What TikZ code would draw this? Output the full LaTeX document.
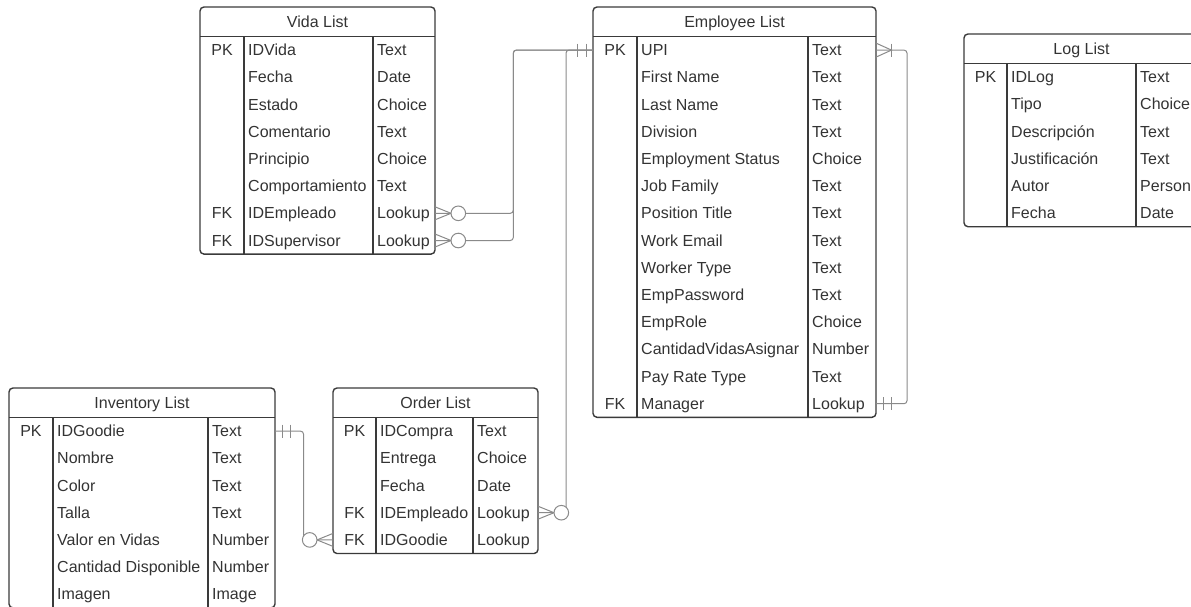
\documentclass[tikz,border=0pt]{standalone}
\usepackage{fontspec}
\setmainfont{Liberation Sans}
\usetikzlibrary{calc}
\definecolor{tblc}{HTML}{3A3A3A}
\definecolor{connc}{HTML}{8A8A8A}
\definecolor{txtc}{HTML}{333333}
\tikzset{
  tbl/.style={draw=tblc, line width=1.4pt, rounded corners=4pt},
  colsep/.style={draw=tblc, line width=1.4pt},
  conn/.style={draw=connc, line width=1pt, rounded corners=3pt},
  txt/.style={inner sep=0pt, text=txtc, font=\fontsize{16}{19}\selectfont},
}
\newcommand\ertable[9]{% #1 name, #2 x1, #3 y1, #4 x2, #5 c1, #6 c2, #7 title, #8 nrows, #9 rows
  \pgfmathsetmacro\yh{#3+29.5}
  \pgfmathsetmacro\yb{\yh+#8*27.2}
  \draw[tbl] (#2,#3) rectangle (#4,\yb);
  \draw[colsep] (#2,\yh) -- (#4,\yh);
  \draw[colsep] (#5,\yh) -- (#5,\yb);
  \draw[colsep] (#6,\yh) -- (#6,\yb);
  \node[txt, anchor=base] (#1-t) at ({(#2+#4)/2},{#3+20.5}) {#7};
  \foreach \k/\n/\t [count=\i] in {#9} {
    \pgfmathsetmacro\yc{\yh+(\i-0.5)*27.2}
    \node[txt, anchor=base] (#1-k\i) at ({(#2+#5)/2},{\yc+5.6}) {\k};
    \node[txt, anchor=base west] (#1-n\i) at ({#5+4},{\yc+5.6}) {\n};
    \node[txt, anchor=base west] (#1-y\i) at ({#6+4},{\yc+5.6}) {\t};
    \coordinate (#1-L\i) at (#2,\yc);
    \coordinate (#1-R\i) at (#4,\yc);
  }
}
\newcommand\zmany[2]{% zero or many at coordinate #1, direction #2
  \draw[conn, rounded corners=0pt] ($(#1)+(0,-6.5)$) -- ($(#1)+(#2*16,0)$) -- ($(#1)+(0,6.5)$);
  \draw[conn, fill=white] ($(#1)+(#2*23.3,0)$) circle[radius=7.3pt];
}
\newcommand\obar[2]{% bar at coordinate #1, offset #2
  \draw[conn] ($(#1)+(#2,-6.5)$) -- ($(#1)+(#2,6.5)$);
}
\begin{document}
\begin{tikzpicture}[x=1pt,y=-1pt]
\useasboundingbox (0,0) rectangle (1191,606);
\clip (0,0) rectangle (1191,606);

\ertable{vida}{200}{7}{435}{244}{373}{Vida List}{8}{PK/IDVida/Text, {}/Fecha/Date, {}/Estado/Choice, {}/Comentario/Text, {}/Principio/Choice, {}/Comportamiento/Text, FK/IDEmpleado/Lookup, FK/IDSupervisor/Lookup}

\ertable{emp}{593}{7}{876}{637}{808}{Employee List}{14}{PK/UPI/Text, {}/First Name/Text, {}/Last Name/Text, {}/Division/Text, {}/Employment Status/Choice, {}/Job Family/Text, {}/Position Title/Text, {}/Work Email/Text, {}/Worker Type/Text, {}/EmpPassword/Text, {}/EmpRole/Choice, {}/CantidadVidasAsignar/Number, {}/Pay Rate Type/Text, FK/Manager/Lookup}

\ertable{log}{964}{34}{1199}{1007}{1136}{Log List}{6}{PK/IDLog/Text, {}/Tipo/Choice, {}/Descripción/Text, {}/Justificación/Text, {}/Autor/Person, {}/Fecha/Date}

\ertable{inv}{9}{388}{275}{53}{208}{Inventory List}{7}{PK/IDGoodie/Text, {}/Nombre/Text, {}/Color/Text, {}/Talla/Text, {}/Valor en Vidas/Number, {}/Cantidad Disponible/Number, {}/Imagen/Image}

\ertable{ord}{333}{388}{538}{376}{473}{Order List}{5}{PK/IDCompra/Text, {}/Entrega/Choice, {}/Fecha/Date, FK/IDEmpleado/Lookup, FK/IDGoodie/Lookup}

% connectors
\draw[conn] (vida-R7) -- ++(78.3,0) |- (emp-L1);
\draw[conn] (vida-R8) -- ++(78.3,0) |- (emp-L1);
\draw[conn] (ord-R4) -- ++(28,0) |- (emp-L1);
\draw[conn] (inv-R1) -- ++(28.5,0) |- (ord-L5);
\draw[conn] (emp-R14) -- ++(31,0) |- (emp-R1);

% ends
\zmany{vida-R7}{1}
\zmany{vida-R8}{1}
\zmany{ord-R4}{1}
\zmany{ord-L5}{-1}
\obar{emp-L1}{-15.3}
\obar{emp-L1}{-7}
\obar{inv-R1}{7.5}
\obar{inv-R1}{15}
\obar{emp-R14}{7.5}
\obar{emp-R14}{15}
\draw[conn, rounded corners=0pt] ($(emp-R1)+(0,-7)$) -- ($(emp-R1)+(15.5,0)$) -- ($(emp-R1)+(0,7)$);
\obar{emp-R1}{15.5}
\end{tikzpicture}
\end{document}
